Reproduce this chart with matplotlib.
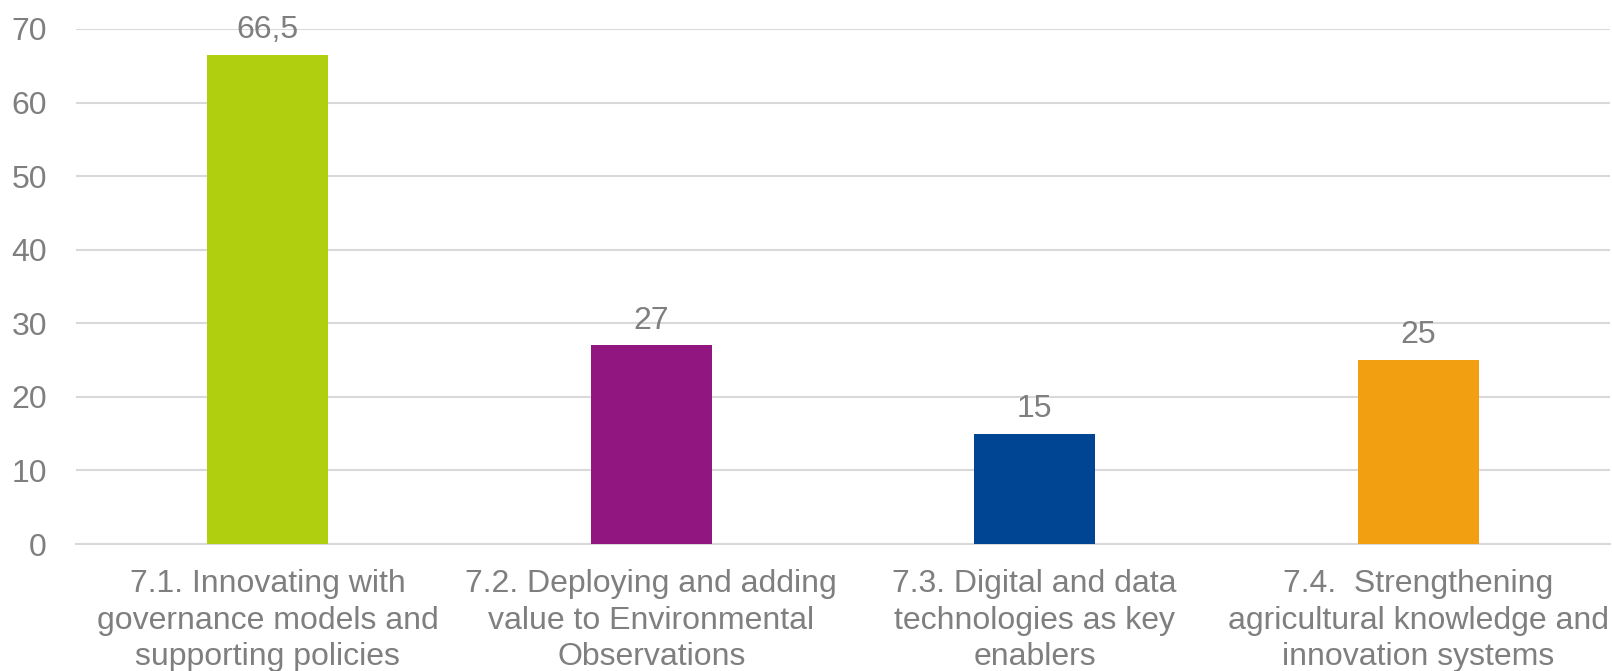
import numpy as np
import matplotlib; matplotlib.use("Agg"); import matplotlib.pyplot as plt

plt.rcParams.update({"font.family":["Liberation Sans","DejaVu Sans"],"font.size":23})
GRAY,GRID="#7f7f7f","#d9d9d9"

categories=["7.1. Innovating with\ngovernance models and\nsupporting policies",
            "7.2. Deploying and adding\nvalue to Environmental\nObservations",
            "7.3. Digital and data\ntechnologies as key\nenablers",
            "7.4.  Strengthening\nagricultural knowledge and\ninnovation systems"]
values=[66.5,27,15,25]
colors=["#b0cf0e","#921680","#004494","#f29f11"]
yticks=[0,10,20,30,40,50,60,70]

fig=plt.figure(figsize=(16.12,6.71),dpi=100)
ax=fig.add_axes([76/1612,1-544/671,(1610-76)/1612,(544-29)/671])
x=np.arange(len(values))
bars=ax.bar(x,values,width=0.316,color=colors,zorder=3)
for b,v in zip(bars,values):
    lab=f"{v:g}".replace(".",",")
    ax.annotate(lab,(b.get_x()+b.get_width()/2,v),xytext=(0,12),textcoords="offset points",
                ha="center",va="baseline",color=GRAY,fontsize=23)
ax.set_xlim(-0.5,len(values)-0.5); ax.set_ylim(0,70)
ax.set_yticks(yticks); ax.set_yticklabels([str(t) for t in yticks],color=GRAY,fontsize=23)
ax.set_xticks(x); ax.set_xticklabels(categories,color=GRAY,fontsize=23,linespacing=1.29)
ax.tick_params(axis="both",length=0)
ax.tick_params(axis="y",pad=21); ax.tick_params(axis="x",pad=18)
ax.yaxis.grid(True,color=GRID,lw=1.5,zorder=0)
for s in ["top","right","left"]: ax.spines[s].set_visible(False)
ax.spines["bottom"].set_color(GRID); ax.spines["bottom"].set_linewidth(1.5)
fig.savefig("out.png",dpi=100)
